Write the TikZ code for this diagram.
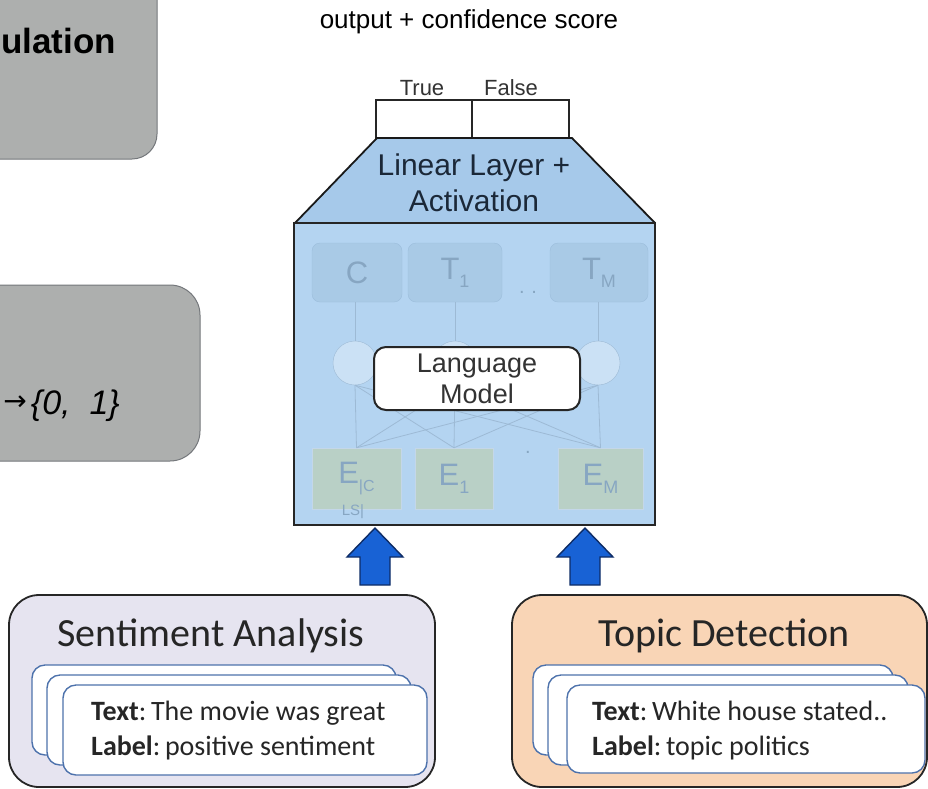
\documentclass[tikz,border=0pt]{standalone}
\usepackage{fontspec}
\setmainfont{Liberation Sans}
\newfontfamily\gillfont{Carlito}
\newfontfamily\symbfont{DejaVu Sans}
\usepackage{xcolor}
\usepackage{tikz}
\usetikzlibrary{positioning}

\definecolor{slidegray}{HTML}{ADAFAE}
\definecolor{slideedge}{HTML}{74777B}
\definecolor{headblue}{HTML}{A6C9EA}
\definecolor{bodyblue}{HTML}{B4D4F1}
\definecolor{tokfill}{HTML}{A9CAE6}
\definecolor{tokedge}{HTML}{9CBDDB}
\definecolor{toktext}{HTML}{87A6C2}
\definecolor{embfill}{HTML}{B9D0C6}
\definecolor{wirecol}{HTML}{9DBAD5}
\definecolor{arrowblue}{HTML}{1862D5}
\definecolor{arrowedge}{HTML}{0E2C66}
\definecolor{lavender}{HTML}{E6E4F0}
\definecolor{peach}{HTML}{F9D5B6}
\definecolor{cardedge}{HTML}{4D72AC}
\definecolor{headtext}{HTML}{1B2838}

\newcommand{\px}[1]{\fontsize{#1}{#1}\selectfont}
\newcommand{\lowsub}[2][18]{\raisebox{-8pt}{\fontsize{#1}{#1}\selectfont #2}}

\tikzset{
  slidebox/.style={fill=slidegray, draw=slideedge, line width=1pt},
  tokbox/.style={fill=tokfill, draw=tokedge, rounded corners=8pt, text=toktext, font=\px{31}},
  embbox/.style={fill=embfill, draw=tokedge!60, text=toktext, font=\px{31}},
  wire/.style={draw=wirecol, line width=0.8pt},
  taskbox/.style={draw=black!85, line width=1.8pt, rounded corners=30pt},
  card/.style={fill=white, draw=cardedge, line width=1.4pt, rounded corners=13pt},
  bigarrow/.style={fill=arrowblue, draw=arrowedge, line width=1.4pt, line join=miter},
  cardtext/.style={anchor=west, align=left, font=\gillfont\fontsize{28}{35}\selectfont, text=black!85}
}

\begin{document}
\begin{tikzpicture}[x=1pt, y=-1pt, every node/.style={inner sep=0pt}]
  \useasboundingbox (0,0) rectangle (928,788);
  \clip (0,0) rectangle (928,788);

  % grey slide boxes, cut at the left
  \filldraw[slidebox, rounded corners=25pt] (-40,-40) rectangle (157,159);
  \node[anchor=base east, font=\bfseries\px{35}] (formul) at (116,53) {ulation};
  \filldraw[slidebox, rounded corners=30pt] (-40,285) rectangle (200,461);
  \node[anchor=base east, font=\itshape\px{34}] (target) at (120,414) {\{0,\ \ 1\}};
  \node[anchor=base east, font=\symbfont\px{28}] (maps) at (27,410) {→};

  \node[font=\px{26}] (out) at (469,22) {output + confidence score};

  % output cells
  \filldraw[fill=white, draw=black!85, line width=1.5pt] (376,100) rectangle (472,138);
  \filldraw[fill=white, draw=black!85, line width=1.5pt] (472,100) rectangle (569,138);
  \node[font=\px{22}, text=black!80] (true) at (422,88) {True};
  \node[font=\px{22}, text=black!80] (false) at (511,88) {False};

  % linear layer head
  \filldraw[fill=headblue, draw=black!90, line width=1.8pt, line join=round]
    (295,223) -- (377,138) -- (572,138) -- (655,223) -- cycle;
  \node[align=center, font=\fontsize{30}{36}\selectfont, text=headtext] (lin) at (474,183)
    {Linear Layer +\\Activation};

  % encoder body
  \filldraw[fill=bodyblue, draw=black!85, line width=1.8pt] (294,223) rectangle (655,525);

  \node[tokbox, minimum width=90, minimum height=59] (c) at (357,272.5) {C};
  \node[tokbox, minimum width=94, minimum height=59] (t1) at (455,272.5) {T\lowsub{1}};
  \node[tokbox, minimum width=98, minimum height=59] (tm) at (599,272.5) {T\lowsub{M}};
  \node[text=toktext, font=\px{20}] (dots) at (528,292) {.\,\,.};

  \node[embbox, minimum width=89, minimum height=61] (ec) at (356.5,478.5) {E\lowsub[16]{|C}};
  \node[text=toktext, font=\px{15}] (ls) at (353,512) {LS|};
  \node[embbox, minimum width=78, minimum height=61] (e1) at (454,478.5) {E\lowsub{1}};
  \node[embbox, minimum width=85, minimum height=61] (em) at (600.5,478.5) {E\lowsub{M}};
  \node[text=toktext, font=\px{20}] (dot) at (528,452) {.};

  \node[circle, minimum size=44, fill=bodyblue!70!white, draw=wirecol] (h1) at (355,363) {};
  \node[circle, minimum size=44, fill=bodyblue!70!white, draw=wirecol] (h2) at (455,363) {};
  \node[circle, minimum size=44, fill=bodyblue!70!white, draw=wirecol] (h3) at (598,363) {};

  \draw[wire] (c.south -| h1) -- (h1.north);
  \draw[wire] (t1.south -| h2) -- (h2.north);
  \draw[wire] (tm.south -| h3) -- (h3.north);
  \foreach \e in {ec,e1,em}
    \foreach \h in {h1,h2,h3}
      \draw[wire] (\e.north) -- (\h.south);

  \node[draw=black!85, fill=white, line width=2pt, rounded corners=12pt,
        minimum width=206, minimum height=63, align=center,
        font=\fontsize{27}{31}\selectfont, text=black!80] (lm) at (477,378.5) {Language\\Model};

  % input arrows
  \filldraw[bigarrow] (375,528) -- (403,557) -- (390,557) -- (390,585)
    -- (360,585) -- (360,557) -- (347,557) -- cycle;
  \filldraw[bigarrow] (585,528) -- (613,557) -- (600,557) -- (600,585)
    -- (570,585) -- (570,557) -- (557,557) -- cycle;

  % task datasets
  \filldraw[taskbox, fill=lavender] (9,595) rectangle (435,787);
  \node[font=\gillfont\px{40}, text=black!85] (sa) at (211,636) {Sentiment Analysis};
  \filldraw[card] (32,665) rectangle (396,755);
  \filldraw[card] (47,675) rectangle (411,765);
  \filldraw[card] (63,685) rectangle (427,775);
  \node[cardtext] (satext) at (91,731)
    {\textbf{Text}:\,The movie was great\\\textbf{Label}:\,positive sentiment};

  \filldraw[taskbox, fill=peach] (512,595) rectangle (927,787);
  \node[font=\gillfont\px{40}, text=black!85] (td) at (724,636) {Topic Detection};
  \filldraw[card] (533,665) rectangle (893,755);
  \filldraw[card] (548,675) rectangle (908,765);
  \filldraw[card] (567,685) rectangle (925,773);
  \node[cardtext] (tdtext) at (592,731)
    {\textbf{Text}:\,White house stated..\\\textbf{Label}:\,topic politics};
\end{tikzpicture}
\end{document}
